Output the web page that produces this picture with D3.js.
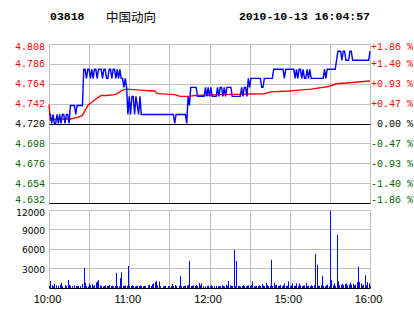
<!DOCTYPE html>
<html><head><meta charset="utf-8">
<script src="https://cdn.jsdelivr.net/npm/d3@7"></script>
<style>body{margin:0;background:#fff}svg{display:block}</style>
</head><body>
<svg id="c" width="414" height="314"></svg>
<script>
const stockCode = "03818", stockName = "中国动向", stamp = "2010-10-13 16:04:57";
const prevClose = 4.720;
const priceTicks = [4.808,4.786,4.764,4.742,4.720,4.698,4.676,4.654,4.632];
const pctTicks = ["+1.86 %","+1.40 %","+0.93 %","+0.47 %"," 0.00 %","-0.47 %","-0.93 %","-1.40 %","-1.86 %"];
const volTicks = [12000,9000,6000,3000];
const timeLabels = ["10:00","11:00","12:00","15:00","16:00"];
const timeLabelMin = [0,60,120,180,240];
// minute-by-minute price (minute 0 = 10:00, 150 = 14:30, 240 = 16:00)
const price = [
4.73,4.73,4.72,4.73,4.72,4.72,4.73,4.72,4.73,4.72,
4.73,4.73,4.72,4.73,4.73,4.72,4.74,4.74,4.74,4.74,
4.73,4.74,4.74,4.74,4.74,4.74,4.78,4.78,4.77,4.78,
4.78,4.77,4.78,4.77,4.78,4.78,4.77,4.78,4.78,4.78,
4.77,4.78,4.78,4.77,4.77,4.78,4.78,4.77,4.78,4.78,
4.77,4.78,4.77,4.78,4.77,4.77,4.76,4.77,4.76,4.73,
4.75,4.73,4.75,4.75,4.73,4.75,4.74,4.73,4.75,4.73,
4.73,4.73,4.73,4.73,4.73,4.73,4.73,4.73,4.73,4.73,
4.73,4.73,4.73,4.73,4.73,4.73,4.73,4.73,4.73,4.73,
4.73,4.73,4.73,4.73,4.72,4.73,4.73,4.73,4.73,4.73,
4.73,4.73,4.73,4.72,4.75,4.74,4.76,4.76,4.76,4.76,
4.76,4.75,4.75,4.75,4.75,4.75,4.75,4.76,4.75,4.76,
4.75,4.76,4.75,4.75,4.75,4.75,4.76,4.75,4.76,4.76,
4.75,4.76,4.75,4.76,4.76,4.76,4.76,4.75,4.75,4.75,
4.75,4.75,4.75,4.75,4.76,4.75,4.76,4.76,4.75,4.77,
4.76,4.77,4.77,4.77,4.77,4.77,4.77,4.77,4.77,4.76,
4.76,4.77,4.77,4.77,4.77,4.77,4.77,4.77,4.78,4.78,
4.78,4.78,4.78,4.78,4.78,4.78,4.77,4.78,4.78,4.78,
4.78,4.78,4.78,4.78,4.77,4.78,4.77,4.78,4.78,4.77,
4.78,4.77,4.77,4.78,4.77,4.78,4.77,4.77,4.77,4.77,
4.77,4.77,4.77,4.77,4.77,4.77,4.78,4.77,4.78,4.78,
4.78,4.78,4.78,4.78,4.78,4.79,4.80,4.80,4.80,4.79,
4.80,4.80,4.79,4.79,4.79,4.80,4.80,4.79,4.79,4.79,
4.79,4.79,4.79,4.79,4.79,4.79,4.79,4.79,4.79,4.79,
4.80];
// average price line, read at these minutes
const avgMin = [0,1,8,16,22,25,29,34,39,43,49,51,55,58,68,79,81,94,98,104,109,129,161,166,179,187,196,209,215,231,240];
const avgPrice = [4.741,4.724,4.725,4.725,4.727,4.729,4.740,4.746,4.751,4.751,4.752,4.753,4.757,4.758,4.757,4.756,4.753,4.752,4.750,4.750,4.751,4.752,4.753,4.755,4.756,4.757,4.758,4.761,4.764,4.766,4.767];
const volume = [
300,1070,450,250,600,400,0,350,500,800,
300,0,450,300,1200,500,350,300,0,400,
300,250,350,300,0,600,3060,800,300,250,
700,400,600,300,450,850,1000,1200,400,300,
250,300,400,350,300,450,300,350,250,300,
2300,300,250,1500,2400,350,300,400,300,3370,
350,300,400,300,250,300,350,300,400,300,
250,350,300,0,400,500,300,600,700,900,
1100,400,1000,300,0,250,300,350,0,300,
250,300,600,300,450,300,0,350,1840,300,
250,300,400,350,500,4130,300,350,400,300,
450,300,750,400,700,300,0,250,300,350,
300,400,250,300,0,350,300,250,300,450,
300,250,500,300,1100,400,350,300,5800,300,
4130,350,300,250,300,400,300,250,350,400,
300,450,1000,300,250,350,300,400,300,600,
350,300,800,400,300,350,4300,300,800,400,
500,300,350,450,300,400,700,300,350,1000,
300,400,700,300,350,700,300,700,400,300,
350,400,800,300,350,300,400,300,450,5200,
3570,300,350,400,1880,300,250,400,500,300,
11800,1200,400,700,300,8150,1000,400,500,600,
450,600,700,400,500,800,500,700,400,500,
900,3260,900,700,400,500,1950,400,900,700,
300];

const svg = d3.select("#c");
const L = 49, R = 370;
const x = d3.scaleLinear().domain([0,240]).range([L,R]);
const y = d3.scaleLinear().domain([4.632,4.808]).range([203,44]);
const yv = d3.scaleLinear().domain([0,12000]).range([288,209.5]);
const crisp = v => Math.round(v) + 0.5;
const GRID = "#c0c0c0", RED = "#ff0000", GREEN = "#006600";
const gridMins = d3.range(0,241,30);

// header
svg.append("text").attr("x",50).attr("y",16).attr("dominant-baseline","central")
  .attr("font-family","Liberation Mono, monospace").attr("font-weight","bold").attr("font-size",11.5)
  .text(stockCode);
svg.append("text").attr("x",106).attr("y",16).attr("dominant-baseline","central")
  .attr("font-family","Noto Sans CJK SC").attr("font-size",12.5).text(stockName);
svg.append("text").attr("x",370).attr("y",16).attr("dominant-baseline","central").attr("text-anchor","end")
  .attr("font-family","Liberation Mono, monospace").attr("font-weight","bold").attr("font-size",11.5)
  .text(stamp);

// price panel grid
const gp = svg.append("g");
gp.selectAll("line.v").data(gridMins).join("line")
  .attr("x1",d=>crisp(x(d))).attr("x2",d=>crisp(x(d))).attr("y1",crisp(y(4.808))).attr("y2",crisp(y(4.632)))
  .attr("stroke",GRID);
gp.selectAll("line.h").data(priceTicks).join("line")
  .attr("x1",crisp(L)).attr("x2",crisp(R)).attr("y1",d=>crisp(y(d))).attr("y2",d=>crisp(y(d)))
  .attr("stroke",d=>(d===prevClose||d===4.632)?"#000":GRID);

// price labels
gp.selectAll("text.pl").data(priceTicks).join("text")
  .attr("x",45).attr("y",d=>Math.min(200,Math.max(47.5,y(d)+1)))
  .attr("dominant-baseline","central").attr("text-anchor","end")
  .attr("font-family","Liberation Mono, monospace").attr("font-size",10)
  .attr("fill",d=>d>prevClose?RED:(d<prevClose?GREEN:"#000"))
  .text(d=>d.toFixed(3));
gp.selectAll("text.pr").data(priceTicks).join("text")
  .attr("x",371).attr("y",d=>Math.min(200,Math.max(47.5,y(d)+1)))
  .attr("dominant-baseline","central").attr("text-anchor","start")
  .attr("font-family","Liberation Mono, monospace").attr("font-size",10).style("white-space","pre")
  .attr("fill",d=>d>prevClose?RED:(d<prevClose?GREEN:"#000"))
  .text((d,i)=>pctTicks[i]);

// average line
const avgData = avgMin.map((m,i)=>[m,avgPrice[i]]);
svg.append("path").datum(avgData)
  .attr("d",d3.line().x(d=>x(d[0])).y(d=>y(d[1])))
  .attr("fill","none").attr("stroke",RED).attr("stroke-width",1.4);
// price line
svg.append("path").datum(price)
  .attr("d",d3.line().x((d,i)=>x(i)).y(d=>y(d)))
  .attr("fill","none").attr("stroke","#0000ff").attr("stroke-width",1.4);

// volume panel
const gv = svg.append("g");
gv.selectAll("line.v").data(gridMins).join("line")
  .attr("x1",d=>crisp(x(d))).attr("x2",d=>crisp(x(d))).attr("y1",crisp(yv(12000))).attr("y2",crisp(yv(0)))
  .attr("stroke",GRID);
gv.selectAll("line.h").data(volTicks).join("line")
  .attr("x1",crisp(L)).attr("x2",crisp(R)).attr("y1",d=>crisp(yv(d))).attr("y2",d=>crisp(yv(d)))
  .attr("stroke",GRID);
gv.selectAll("text").data(volTicks).join("text")
  .attr("x",45).attr("y",d=>Math.max(212.5,yv(d)+1.5))
  .attr("dominant-baseline","central").attr("text-anchor","end")
  .attr("font-family","DejaVu Sans, sans-serif").attr("font-size",9)
  .text(d=>d);
gv.selectAll("rect").data(volume).join("rect")
  .attr("x",(d,i)=>Math.round(x(i))).attr("width",1)
  .attr("y",d=>yv(d)).attr("height",d=>yv(0)-yv(d))
  .attr("fill","#0000ff");
gv.append("line").attr("x1",crisp(L)).attr("x2",crisp(R)).attr("y1",crisp(yv(0))).attr("y2",crisp(yv(0)))
  .attr("stroke","#000");

// time labels
svg.selectAll("text.t").data(timeLabels).join("text")
  .attr("x",(d,i)=>x(timeLabelMin[i])-1.5).attr("y",298.5)
  .attr("dominant-baseline","central").attr("text-anchor","middle")
  .attr("font-family","Liberation Sans, Arial, sans-serif").attr("font-size",11)
  .text(d=>d);
</script>
</body></html>
